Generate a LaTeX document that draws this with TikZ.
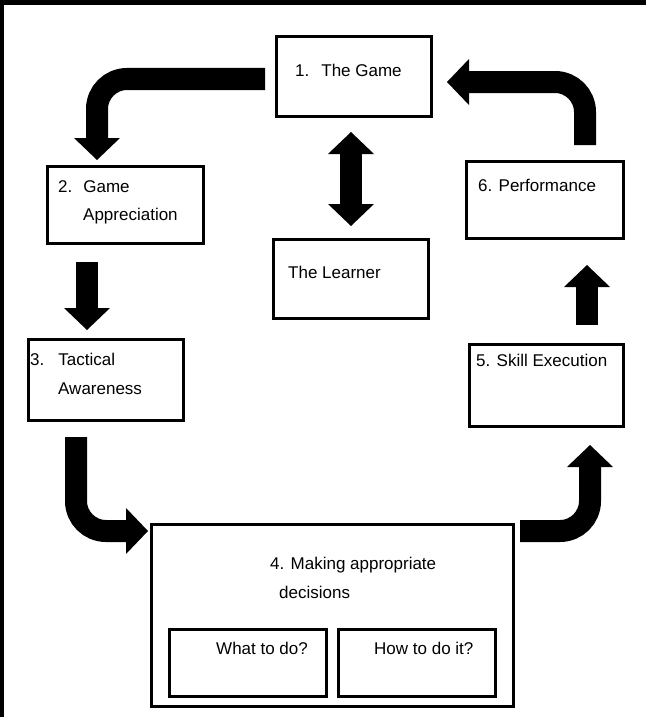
\documentclass[tikz,border=0pt]{standalone}
\usepackage{fontspec}
\setmainfont{Liberation Sans}
\usetikzlibrary{arrows.meta,positioning}

\begin{document}
\begin{tikzpicture}[
        x=1pt, y=-1pt,
        box/.style={rectangle, draw, line width=3pt, inner sep=0pt},
        txt/.style={inner sep=0pt, anchor=base west, font=\fontsize{17}{20}\selectfont},
        fat/.style={line width=22pt, rounded corners=30pt, -{Triangle[length=22pt, width=46pt, line width=0pt]}},
        fatboth/.style={line width=22pt, {Triangle[length=22pt, width=46pt, line width=0pt]}-{Triangle[length=22pt, width=46pt, line width=0pt]}}
    ]
        % frame
        \useasboundingbox (0,0) rectangle (646,717);
        \fill (0,0) rectangle (646,5);
        \fill (0,0) rectangle (4,717);

        \node[box, minimum width=155pt, minimum height=80pt] (game)    at (354,76.5)  {};
        \node[box, minimum width=156pt, minimum height=77pt] (appr)    at (125.5,205) {};
        \node[box, minimum width=155pt, minimum height=79pt] (learner) at (351,279)   {};
        \node[box, minimum width=157pt, minimum height=77pt] (perf)    at (545,200)   {};
        \node[box, minimum width=155pt, minimum height=81pt] (tact)    at (106,380)   {};
        \node[box, minimum width=154pt, minimum height=82pt] (skill)   at (546.5,385.5) {};
        \node[box, minimum width=362pt, minimum height=182pt] (dec)    at (332.5,615.5) {};
        \node[box, minimum width=157pt, minimum height=67pt] (what)    at (248,663)   {};
        \node[box, minimum width=157pt, minimum height=67pt] (how)     at (417,663)   {};

        \node[txt] (game-t)    at (295,77)  {1.\hspace{12pt}The Game};
        \node[txt] (appr-t1)   at (58,192)  {2.\hspace{11pt}Game};
        \node[txt] (appr-t2)   at (83,220)  {Appreciation};
        \node[txt] (learner-t) at (288,278) {The Learner};
        \node[txt] (perf-t)    at (478,191) {6. Performance};
        \node[txt] (tact-t1)   at (30,365)  {3.\hspace{14pt}Tactical};
        \node[txt] (tact-t2)   at (58,394)  {Awareness};
        \node[txt] (skill-t)   at (476,366) {5. Skill Execution};
        \node[txt] (dec-t1)    at (270,569) {4. Making appropriate};
        \node[txt] (dec-t2)    at (279,598) {decisions};
        \node[txt] (what-t)    at (216,654) {What to do?};
        \node[txt] (how-t)     at (374,654) {How to do it?};

        \draw[fat] ([shift={(-10,2.5)}]game.west) -| ([shift={(-28.5,-5)}]appr.north);
        \draw[fat] ([shift={(-38.5,17)}]appr.south) -- ([shift={(-19,-8)}]tact.north);
        \draw[fat] ([shift={(-30,15)}]tact.south) |- ([shift={(-2,-84.5)}]dec.west);
        \draw[fat] ([shift={(5,-84.5)}]dec.east) -| ([shift={(43.5,17)}]skill.south);
        \draw[fat] ([shift={(40.5,-18)}]skill.north) -- ([shift={(42,25)}]perf.south);
        \draw[fat] ([shift={(40,-15)}]perf.north) |- ([shift={(14,5.5)}]game.east);
        \draw[fatboth] ([shift={(-3,14)}]game.south) -- ([shift={(0,-12)}]learner.north);
    \end{tikzpicture}
\end{document}
